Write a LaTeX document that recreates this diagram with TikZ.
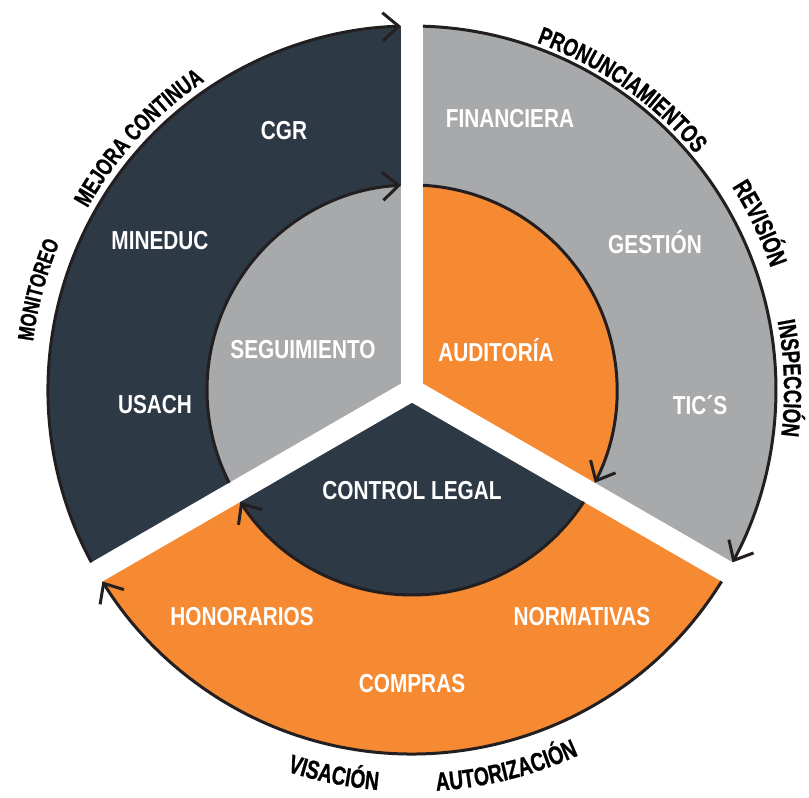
\documentclass[tikz,border=0pt]{standalone}
\usepackage{fontspec}
\setmainfont{Liberation Sans}[FakeStretch=0.8]
\newfontfamily\outerfam{Liberation Sans}[FakeStretch=0.74, FakeBold=0.8]
\usetikzlibrary{arrows.meta,decorations.text}
\definecolor{darkc}{RGB}{46,57,70}
\definecolor{grayc}{RGB}{167,169,171}
\definecolor{orangec}{RGB}{245,138,51}
\definecolor{linec}{RGB}{35,31,32}
\newcommand\oA{\outerfam\bfseries\fontsize{22.5}{22.5}\selectfont}
\newcommand\oB{\outerfam\bfseries\fontsize{24}{24}\selectfont}
\newcommand\oC{\outerfam\bfseries\fontsize{25}{25}\selectfont}
\newcommand\oD{\outerfam\bfseries\fontsize{25.5}{25.5}\selectfont}
\newcommand\oE{\outerfam\bfseries\fontsize{26}{26}\selectfont}
\tikzset{
  outl/.style={draw=linec, line width=3pt, -{Straight Barb[length=16pt,width=28pt]}},
  gapband/.style={draw=white, line width=22pt},
  lbl/.style={text=white, font=\bfseries\fontsize{26}{26}\selectfont, inner sep=0pt, anchor=center},
  curvetext/.style={decorate, decoration={text along path, text align=center, text={#1}}}
}
\begin{document}
\begin{tikzpicture}[x=1pt,y=1pt]
\useasboundingbox (-412pt,-408pt) rectangle (397pt,390pt);
\coordinate (c) at (0,0);
% outer wedges
\fill[darkc] (c) -- (90:364pt) arc[start angle=90, end angle=210, radius=364pt] -- cycle;
\fill[grayc] (c) -- (-30:364pt) arc[start angle=-30, end angle=90, radius=364pt] -- cycle;
\fill[orangec] (c) -- (210:364pt) arc[start angle=210, end angle=330, radius=364pt] -- cycle;
% inner wedges
\fill[grayc] (c) -- (90:205pt) arc[start angle=90, end angle=210, radius=205pt] -- cycle;
\fill[orangec] (c) -- (-30:205pt) arc[start angle=-30, end angle=90, radius=205pt] -- cycle;
\fill[darkc] (c) -- (210:205pt) arc[start angle=210, end angle=330, radius=205pt] -- cycle;
% gaps
\draw[gapband] (c) -- (90:420pt);
\draw[gapband] (c) -- (210:420pt);
\draw[gapband] (c) -- (330:420pt);
% outer outlines with arrows (clockwise)
\draw[outl] (208.27:364pt) arc[start angle=208.27, end angle=91.73, radius=364pt];
\draw[outl] (88.27:364pt) arc[start angle=88.27, end angle=-28.27, radius=364pt];
\draw[outl] (328.27:364pt) arc[start angle=328.27, end angle=211.73, radius=364pt];
% inner outlines with arrows
\draw[outl] (206.92:205pt) arc[start angle=206.92, end angle=93.08, radius=205pt];
\draw[outl] (86.92:205pt) arc[start angle=86.92, end angle=-26.92, radius=205pt];
\draw[outl] (326.92:205pt) arc[start angle=326.92, end angle=213.08, radius=205pt];
% labels inside
\node[lbl] (cgr) at (-128,259) {CGR};
\node[lbl] (mineduc) at (-252,149) {MINEDUC};
\node[lbl] (usach) at (-257,-15) {USACH};
\node[lbl] (seg) at (-109,40) {SEGUIMIENTO};
\node[lbl] (fin) at (98,271) {FINANCIERA};
\node[lbl] (gest) at (243,148) {GESTIÓN};
\node[lbl] (aud) at (84,40) {AUDITORÍA};
\node[lbl] (tics) at (288,-15) {TIC´S};
\node[lbl] (cl) at (0,-101) {CONTROL LEGAL};
\node[lbl] (hon) at (-170,-227) {HONORARIOS};
\node[lbl] (norm) at (170,-227) {NORMATIVAS};
\node[lbl] (comp) at (0,-294) {COMPRAS};
% outer curved labels
\begingroup\oA
\path[curvetext={MONITOREO}] (190:382pt) arc[start angle=190, end angle=140, radius=382pt];
\endgroup
\begingroup\oB
\path[curvetext={MEJORA CONTINUA}] (167.3:372pt) arc[start angle=167.3, end angle=107.3, radius=372pt];
\endgroup
\begingroup\oC
\path[curvetext={PRONUNCIAMIENTOS}] (85:369pt) arc[start angle=85, end angle=25, radius=369pt];
\path[curvetext={INSPECCIÓN}] (26.8:372pt) arc[start angle=26.8, end angle=-23.2, radius=372pt];
\endgroup
\begingroup\oD
\path[curvetext={REVISIÓN}] (50.6:379pt) arc[start angle=50.6, end angle=0.6, radius=379pt];
\endgroup
\begingroup\oE
\path[curvetext={VISACIÓN}] (233.5:401.5pt) arc[start angle=233.5, end angle=283.5, radius=401.5pt];
\path[curvetext={AUTORIZACIÓN}] (259:401.5pt) arc[start angle=259, end angle=309, radius=401.5pt];
\endgroup
\end{tikzpicture}
\end{document}
